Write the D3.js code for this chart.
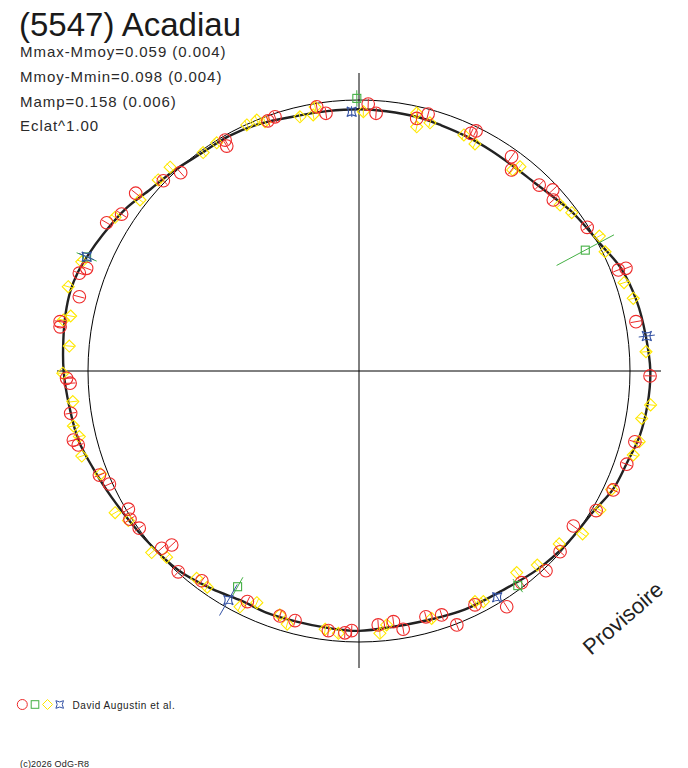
<!DOCTYPE html>
<html>
<head>
<meta charset="utf-8">
<script src="https://cdn.jsdelivr.net/npm/d3@7"></script>
<style>
  html, body { margin: 0; padding: 0; background: #fff; }
  svg { display: block; font-family: "Liberation Sans", Arial, sans-serif; }
</style>
</head>
<body>
<svg id="chart" width="688" height="768"></svg>
<script>
// ---- Texts ----
const title = "(5547) Acadiau";
const infoLines = ["Mmax-Mmoy=0.059 (0.004)", "Mmoy-Mmin=0.098 (0.004)", "Mamp=0.158 (0.006)", "Eclat^1.00"];
const observer = "David Augustin et al.";
const copyright = "(c)2026 OdG-R8";
const stamp = "Provisoire";

// ---- Mean polar lightcurve: [angle deg (ccw from +x), radius (ref circle = 1)] ----
const curveAngles = [0, 7, 14, 21.5, 28, 32, 37, 42, 47, 53, 59, 65, 71.5, 77, 84, 90, 97, 103, 112, 119, 126, 133, 139, 145, 152, 157, 160.5, 164.5, 169, 174, 180, 187, 194, 200, 207, 218, 228, 236, 243, 249, 256, 263, 270, 278, 287, 294, 303, 312, 320, 329, 335, 341, 347, 353.5];
const curveRadii = [1.075, 1.066, 1.057, 1.038, 1.005, 0.993, 0.980, 0.962, 0.950, 0.946, 0.948, 0.952, 0.956, 0.962, 0.964, 0.966, 0.966, 0.968, 0.983, 0.991, 0.992, 1.007, 1.021, 1.048, 1.071, 1.088, 1.099, 1.105, 1.103, 1.097, 1.090, 1.077, 1.066, 1.045, 1.025, 1.004, 0.992, 0.970, 0.952, 0.955, 0.953, 0.955, 0.959, 0.952, 0.955, 0.963, 0.967, 0.985, 0.997, 1.008, 1.034, 1.045, 1.063, 1.072];

// ---- Observations [x, y] (reference circle radius = 1) ----
const redPoints = [
  [-0.310,0.938],[-0.336,0.923],[-0.156,0.975],[-0.122,0.951],[0.034,0.985],[0.063,0.951],[0.213,0.932],[0.255,0.948],
  [0.413,0.877],[0.432,0.886],[0.563,0.791],[0.563,0.742],[0.665,0.686],[0.715,0.668],[0.717,0.631],[0.842,0.530],
  [0.957,0.373],[0.985,0.379],[1.022,0.182],[1.074,-0.018],
  [1.018,-0.261],[0.988,-0.344],[0.938,-0.439],[0.875,-0.515],[0.791,-0.572],[0.742,-0.667],[0.690,-0.737],[0.600,-0.781],[0.545,-0.870],[0.428,-0.863],
  [0.361,-0.937],[0.305,-0.900],[0.247,-0.907],[0.163,-0.953],[0.127,-0.925],[0.071,-0.937],[-0.027,-0.958],[-0.052,-0.966],[-0.113,-0.958],[-0.236,-0.921],[-0.292,-0.904],
  [-0.412,-0.851],[-0.580,-0.774],[-0.667,-0.741],[-0.691,-0.642],[-0.728,-0.654],[-0.811,-0.580],[-0.845,-0.547],[-0.851,-0.510],[-0.921,-0.417],[-0.958,-0.384],
  [-1.036,-0.273],[-1.054,-0.255],[-1.064,-0.156],[-1.066,-0.045],[-1.079,-0.027],[-1.103,0.163],[-1.103,0.182],[-1.032,0.274],[-1.032,0.361],[-1.005,0.379],
  [-0.931,0.547],[-0.876,0.579],[-0.824,0.656],[-0.722,0.702],[-0.658,0.732],[-0.494,0.852],[-0.488,0.830]
];
const yellowPoints = [
  [-0.377,0.926],[-0.347,0.920],[-0.218,0.938],[-0.169,0.945],[-0.162,0.974],[0.016,0.957],[0.213,0.952],[0.213,0.901],[0.262,0.916],
  [0.387,0.871],[0.428,0.838],[0.567,0.742],[0.594,0.754],[0.742,0.613],[0.785,0.584],[0.887,0.498],[0.908,0.440],[0.978,0.326],[1.012,0.268],[1.059,0.071],
  [1.076,-0.125],[1.043,-0.175],[1.034,-0.261],[1.012,-0.310],[0.932,-0.437],[0.889,-0.513],[0.825,-0.601],[0.739,-0.638],[0.658,-0.716],[0.582,-0.744],[0.459,-0.851],[0.428,-0.851],
  [0.268,-0.913],[0.102,-0.937],[0.077,-0.968],[-0.076,-0.968],[-0.125,-0.953],[-0.265,-0.934],[-0.292,-0.900],
  [-0.377,-0.855],[-0.439,-0.870],[-0.560,-0.798],[-0.599,-0.765],[-0.710,-0.687],[-0.765,-0.670],[-0.851,-0.552],[-0.900,-0.523],[-0.953,-0.380],
  [-1.023,-0.314],[-1.032,-0.242],[-1.054,-0.203],[-1.056,-0.113],[-1.093,-0.008],[-1.069,0.092],[-1.091,0.188],[-1.064,0.203],[-1.073,0.311],[-1.023,0.403],
  [-0.900,0.567],[-0.808,0.631],[-0.741,0.705],[-0.697,0.752],[-0.575,0.806],[-0.525,0.842],[-0.414,0.908]
];
// [x, y, error]
const greenPoints = [[-0.008,1.006,0.030],[0.835,0.446,0.120],[0.586,-0.792,0.030],[-0.448,-0.796,0.040],[-1.005,0.421,0.040]];
const bluePoints = [[-0.027,0.957,0.020],[1.062,0.129,0.030],[0.510,-0.835,0.020],[-0.482,-0.845,0.066],[-1.005,0.422,0.030]];
const redError = 0.020;
const yellowError = 0.018;

// ---- Layout ----
const cx = 359, cy = 371, R = 271;
const colors = { red: "#ee2a2a", yellow: "#ffe800", green: "#44b044", blue: "#3553a5" };

const svg = d3.select("#chart");
const xScale = d3.scaleLinear().domain([-1, 1]).range([cx - R, cx + R]);
const yScale = d3.scaleLinear().domain([-1, 1]).range([cy + R, cy - R]);
const rScale = d3.scaleLinear().domain([0, 1]).range([0, R]);

// Texts
svg.append("text").attr("x", 19).attr("y", 36).attr("font-size", 33).attr("fill", "#1a1a1a").text(title);
infoLines.forEach((t, i) => {
  svg.append("text").attr("x", 20).attr("y", 57 + i * 24.8).attr("font-size", 15)
    .attr("letter-spacing", 0.95).attr("fill", "#2a2a2a").text(t);
});

// Axes
svg.append("line").attr("x1", 57).attr("x2", 661).attr("y1", yScale(0)).attr("y2", yScale(0)).attr("stroke", "#000").attr("stroke-width", 1);
svg.append("line").attr("x1", xScale(0)).attr("x2", xScale(0)).attr("y1", 73).attr("y2", 668).attr("stroke", "#000").attr("stroke-width", 1);

// Reference circle
svg.append("circle").attr("cx", cx).attr("cy", cy).attr("r", rScale(1)).attr("fill", "none").attr("stroke", "#000").attr("stroke-width", 1);

// Mean curve
const curveData = curveAngles.map((a, i) => ({ a, r: curveRadii[i] }));
const radial = d3.lineRadial()
  .angle(d => (90 - d.a) * Math.PI / 180)
  .radius(d => rScale(d.r))
  .curve(d3.curveCatmullRomClosed.alpha(0.5));
svg.append("path").attr("transform", `translate(${cx},${cy})`)
  .attr("d", radial(curveData)).attr("fill", "none").attr("stroke", "#222").attr("stroke-width", 2.4);

// marker helpers
function errLine(g, d, err, color) {
  const x = d[0], y = d[1];
  const len = Math.hypot(x, y);
  const ux = x / len, uy = y / len;
  g.append("line")
    .attr("x1", xScale(x - ux * err)).attr("y1", yScale(y - uy * err))
    .attr("x2", xScale(x + ux * err)).attr("y2", yScale(y + uy * err))
    .attr("stroke", color).attr("stroke-width", 1);
}
const gMarks = svg.append("g");

const diamond = "M0,-6L6,0L0,6L-6,0Z";
const star = "M-4.8,-4.8Q0,-1.6 4.8,-4.8Q1.6,0 4.8,4.8Q0,1.6 -4.8,4.8Q-1.6,0 -4.8,-4.8Z";

yellowPoints.forEach(d => {
  errLine(gMarks, d, yellowError, colors.yellow);
  gMarks.append("path").attr("d", diamond).attr("transform", `translate(${xScale(d[0])},${yScale(d[1])})`)
    .attr("fill", "none").attr("stroke", colors.yellow).attr("stroke-width", 1.1);
});
redPoints.forEach(d => {
  errLine(gMarks, d, redError, colors.red);
  gMarks.append("circle").attr("cx", xScale(d[0])).attr("cy", yScale(d[1])).attr("r", 6.3)
    .attr("fill", "none").attr("stroke", colors.red).attr("stroke-width", 1.1);
});
greenPoints.forEach(d => {
  errLine(gMarks, d, d[2], colors.green);
  gMarks.append("rect").attr("x", xScale(d[0]) - 4).attr("y", yScale(d[1]) - 4).attr("width", 8).attr("height", 8)
    .attr("fill", "none").attr("stroke", colors.green).attr("stroke-width", 1.1);
});
bluePoints.forEach(d => {
  errLine(gMarks, d, d[2], colors.blue);
  gMarks.append("path").attr("d", star).attr("transform", `translate(${xScale(d[0])},${yScale(d[1])})`)
    .attr("fill", "none").attr("stroke", colors.blue).attr("stroke-width", 1.1);
});

// Provisoire stamp
svg.append("text").attr("transform", "translate(591,656) rotate(-41)")
  .attr("font-size", 22).attr("fill", "#222").text(stamp);

// Legend
const ly = 704.5;
svg.append("circle").attr("cx", 22.3).attr("cy", ly).attr("r", 5).attr("fill", "none").attr("stroke", colors.red).attr("stroke-width", 1);
svg.append("rect").attr("x", 31.2).attr("y", ly - 3.8).attr("width", 7.6).attr("height", 7.6).attr("fill", "none").attr("stroke", colors.green).attr("stroke-width", 1);
svg.append("path").attr("d", "M0,-5L5,0L0,5L-5,0Z").attr("transform", `translate(47.5,${ly})`).attr("fill", "none").attr("stroke", colors.yellow).attr("stroke-width", 1);
svg.append("path").attr("d", "M-3.8,-3.8Q0,-1.3 3.8,-3.8Q1.3,0 3.8,3.8Q0,1.3 -3.8,3.8Q-1.3,0 -3.8,-3.8Z").attr("transform", `translate(59.7,${ly})`).attr("fill", "none").attr("stroke", colors.blue).attr("stroke-width", 1);
svg.append("text").attr("x", 72.5).attr("y", 708.5).attr("font-size", 10).attr("letter-spacing", 0.55).attr("fill", "#222").text(observer);

svg.append("text").attr("x", 20).attr("y", 767).attr("font-size", 9).attr("letter-spacing", 0.2).attr("fill", "#222").text(copyright);
</script>
</body>
</html>
